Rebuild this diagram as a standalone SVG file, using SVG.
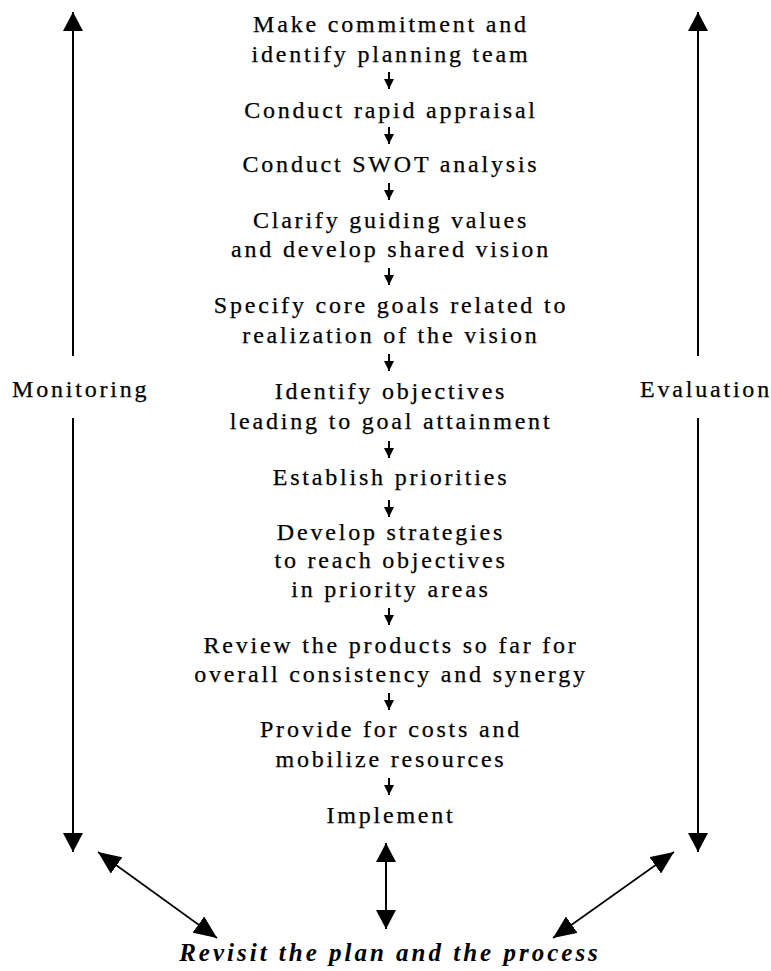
<svg xmlns="http://www.w3.org/2000/svg" width="771" height="971" viewBox="0 0 771 971">
  <style>
    .step { font-family: "Liberation Serif", "Times New Roman", serif; font-size: 24px; letter-spacing: 2.8px; fill: #000; stroke: #000; stroke-width: 0.25; text-anchor: middle; }
    .side { font-family: "Liberation Serif", "Times New Roman", serif; font-size: 24px; letter-spacing: 2.8px; fill: #000; stroke: #000; stroke-width: 0.25; }
    .revisit { font-family: "Liberation Serif", "Times New Roman", serif; font-size: 25px; font-weight: bold; font-style: italic; letter-spacing: 3px; fill: #000; text-anchor: middle; }
    .big { stroke: #000; stroke-width: 2; fill: none; }
    .diag { stroke: #000; stroke-width: 1.6; fill: none; }
    .small { stroke: #000; stroke-width: 2; fill: none; }
  </style>
  <defs>
    <marker id="head" markerUnits="userSpaceOnUse" markerWidth="20" markerHeight="20" refX="19" refY="10" orient="auto-start-reverse">
      <path d="M0,0 L19,10 L0,20 Z" fill="#000"/>
    </marker>
    <marker id="headDiag" markerUnits="userSpaceOnUse" markerWidth="24" markerHeight="20" refX="23" refY="10" orient="auto-start-reverse">
      <path d="M0,0 L23,10 L0,20 Z" fill="#000"/>
    </marker>
    <marker id="tick" markerUnits="userSpaceOnUse" markerWidth="10" markerHeight="10" refX="10" refY="5" orient="auto">
      <path d="M0,0 L10,5 L0,10 Z" fill="#000"/>
    </marker>
  </defs>

  <!-- planning steps -->
  <g id="step-commitment"><text class="step" x="391" y="32">Make commitment and</text><text class="step" x="391" y="62">identify planning team</text></g>
  <g id="step-appraisal"><text class="step" x="391" y="118">Conduct rapid appraisal</text></g>
  <g id="step-swot"><text class="step" x="391" y="172">Conduct SWOT analysis</text></g>
  <g id="step-values"><text class="step" x="391" y="228">Clarify guiding values</text><text class="step" x="391" y="257">and develop shared vision</text></g>
  <g id="step-goals"><text class="step" x="391" y="313">Specify core goals related to</text><text class="step" x="391" y="343">realization of the vision</text></g>
  <g id="step-objectives"><text class="step" x="391" y="399">Identify objectives</text><text class="step" x="391" y="429">leading to goal attainment</text></g>
  <g id="step-priorities"><text class="step" x="391" y="485">Establish priorities</text></g>
  <g id="step-strategies"><text class="step" x="391" y="540">Develop strategies</text><text class="step" x="391" y="568">to reach objectives</text><text class="step" x="391" y="597">in priority areas</text></g>
  <g id="step-review"><text class="step" x="391" y="653">Review the products so far for</text><text class="step" x="391" y="682">overall consistency and synergy</text></g>
  <g id="step-resources"><text class="step" x="391" y="737">Provide for costs and</text><text class="step" x="391" y="767">mobilize resources</text></g>
  <g id="step-implement"><text class="step" x="391" y="823">Implement</text></g>

  <!-- side labels and revisit -->
  <g id="monitoring"><text class="side" x="12" y="397">Monitoring</text></g>
  <g id="evaluation"><text class="side" x="640" y="397">Evaluation</text></g>
  <g id="revisit"><text class="revisit" x="390" y="961">Revisit the plan and the process</text></g>

  <!-- connectors -->
  <g id="connectors">
    <!-- step-to-step arrows -->
    <line class="small" x1="389" y1="72" x2="389" y2="89" marker-end="url(#tick)"/>
    <line class="small" x1="389" y1="127" x2="389" y2="144" marker-end="url(#tick)"/>
    <line class="small" x1="389" y1="183" x2="389" y2="200" marker-end="url(#tick)"/>
    <line class="small" x1="389" y1="268" x2="389" y2="285" marker-end="url(#tick)"/>
    <line class="small" x1="389" y1="354" x2="389" y2="371" marker-end="url(#tick)"/>
    <line class="small" x1="389" y1="441" x2="389" y2="458" marker-end="url(#tick)"/>
    <line class="small" x1="389" y1="500" x2="389" y2="517" marker-end="url(#tick)"/>
    <line class="small" x1="389" y1="608" x2="389" y2="625" marker-end="url(#tick)"/>
    <line class="small" x1="389" y1="693" x2="389" y2="710" marker-end="url(#tick)"/>
    <line class="small" x1="389" y1="778" x2="389" y2="795" marker-end="url(#tick)"/>

    <!-- monitoring -->
    <line class="big" x1="73" y1="356" x2="73" y2="12" marker-end="url(#head)"/>
    <line class="big" x1="73" y1="418" x2="73" y2="852" marker-end="url(#head)"/>
    <!-- evaluation -->
    <line class="big" x1="698" y1="356" x2="698" y2="12" marker-end="url(#head)"/>
    <line class="big" x1="698" y1="418" x2="698" y2="852" marker-end="url(#head)"/>
    <!-- links to revisit -->
    <line class="big" x1="386" y1="843" x2="386" y2="929" marker-start="url(#head)" marker-end="url(#head)"/>
    <line class="diag" x1="98" y1="852" x2="217" y2="938" marker-start="url(#headDiag)" marker-end="url(#headDiag)"/>
    <line class="diag" x1="674" y1="852" x2="553" y2="938" marker-start="url(#headDiag)" marker-end="url(#headDiag)"/>
  </g>
</svg>
